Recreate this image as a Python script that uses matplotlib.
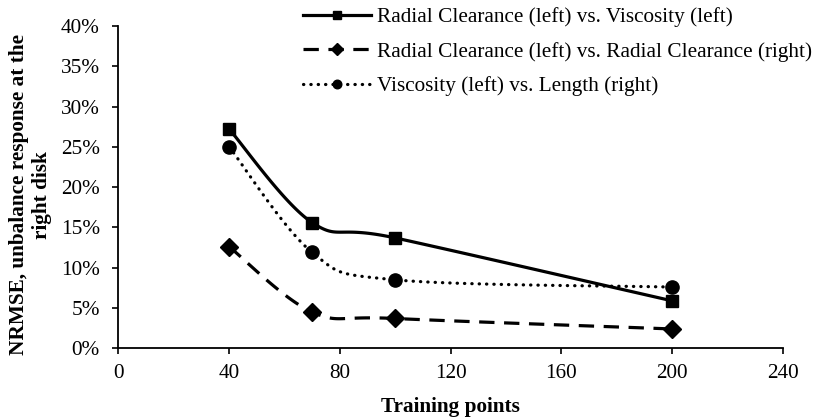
import numpy as np
import matplotlib
matplotlib.use("Agg")
import matplotlib.pyplot as plt
from matplotlib.lines import Line2D

plt.rcParams['font.family'] = ['Liberation Serif', 'DejaVu Serif']

training_points = [40, 70, 100, 200]
rc_vs_visc = [0.272, 0.156, 0.137, 0.059]
rc_vs_rc = [0.126, 0.045, 0.037, 0.024]
visc_vs_len = [0.250, 0.119, 0.085, 0.076]

labels = [
    "Radial Clearance (left) vs. Viscosity (left)",
    "Radial Clearance (left) vs. Radial Clearance (right)",
    "Viscosity (left) vs. Length (right)",
]

x_ticks = [0, 40, 80, 120, 160, 200, 240]
y_ticks = [0, 0.05, 0.10, 0.15, 0.20, 0.25, 0.30, 0.35, 0.40]

FS = 15.3
W, H = 818, 420
fig = plt.figure(figsize=(W / 100, H / 100), dpi=100)
ax = fig.add_axes([118.5 / W, (H - 348.3) / H, (782.5 - 118.5) / W, (348.3 - 26) / H])
ax.set_xlim(0, 240)
ax.set_ylim(0, 0.40)


def smooth(xs, ys, n=40):
    """Cubic Bezier smoothing (Catmull-Rom style) computed in display space."""
    pts = ax.transData.transform(np.column_stack([xs, ys]))
    ext = np.vstack([pts[0], pts, pts[-1]])
    out = []
    t = np.linspace(0, 1, n)[:, None]
    for i in range(len(pts) - 1):
        p0, p3 = ext[i + 1], ext[i + 2]
        c1 = p0 + (ext[i + 2] - ext[i]) / 6.0
        c2 = p3 - (ext[i + 3] - ext[i + 1]) / 6.0
        seg = ((1 - t) ** 3) * p0 + 3 * ((1 - t) ** 2) * t * c1 + 3 * (1 - t) * t ** 2 * c2 + t ** 3 * p3
        out.append(seg if i == 0 else seg[1:])
    curve = np.vstack(out)
    data = ax.transData.inverted().transform(curve)
    return data[:, 0], data[:, 1]


styles = [
    dict(ys=rc_vs_visc, ls='-', dashes=None, marker='s', ms=9.2),
    dict(ys=rc_vs_rc, ls='--', dashes=(4.8, 3.0), marker='D', ms=9.5),
    dict(ys=visc_vs_len, ls=':', dashes=(0.1, 2.2), marker='o', ms=9.5),
]

handles = []
for st, lab in zip(styles, labels):
    sx, sy = smooth(training_points, st['ys'])
    line, = ax.plot(sx, sy, color='black', lw=2.3, solid_capstyle='butt')
    if st['dashes'] is not None:
        line.set_dashes(st['dashes'])
        if st['ls'] == ':':
            line.set_dash_capstyle('round')
    ax.plot(training_points, st['ys'], ls='none', marker=st['marker'], ms=st['ms'],
            color='black', mec='black')
    h = Line2D([0], [0], color='black', lw=2.3, marker=st['marker'],
               ms=st['ms'] * 0.65)
    if st['dashes'] is not None:
        h.set_dashes(st['dashes'])
        if st['ls'] == ':':
            h.set_dash_capstyle('round')
    handles.append((h, lab))

ax.set_xticks(x_ticks)
ax.set_yticks(y_ticks)
ax.set_yticklabels([f"{int(round(v * 100))}%" for v in y_ticks])
ax.tick_params(axis='both', direction='out', length=4.5, width=1.2, labelsize=FS,
               colors='black')
ax.tick_params(axis='x', pad=7)
ax.tick_params(axis='y', pad=9)
for s in ['top', 'right']:
    ax.spines[s].set_visible(False)
for s in ['left', 'bottom']:
    ax.spines[s].set_linewidth(1.3)

ax.set_xlabel("Training points", fontsize=FS, fontweight='bold', labelpad=10)
ax.set_ylabel("NRMSE, unbalance response at the\nright disk", fontsize=FS,
              fontweight='bold', linespacing=1.15)
ax.yaxis.label.set_va('center')
ax.yaxis.set_label_coords((30.5 - 118.5) / 664, 0.476)

leg = fig.legend([h for h, _ in handles], [l for _, l in handles],
                 loc='upper left', bbox_to_anchor=(294 / W, 1 - (-1) / H),
                 frameon=False, fontsize=FS, handlelength=3.2,
                 handletextpad=0.3, labelspacing=0.68, borderaxespad=0)

fig.savefig("out.png", dpi=100)
